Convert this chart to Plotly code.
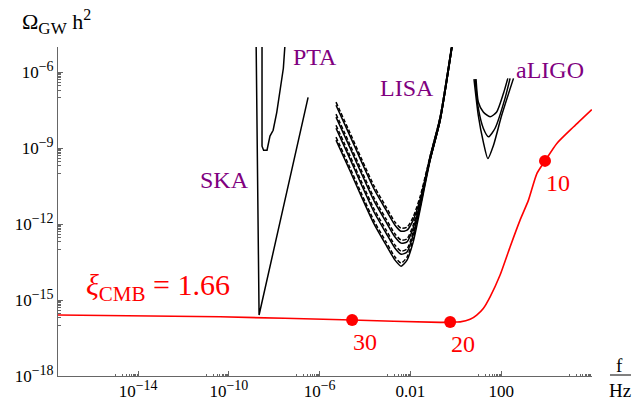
import plotly.graph_objects as go

# ---------------- data (log10 values) ----------------
# red curve: xi_CMB = 1.66
red_logf = [-17.53, -10.39, -4.57, -0.69, -0.25, 0.19, 0.63, 0.92, 1.21, 1.51, 1.95, 2.39, 2.83, 3.20, 3.57, 3.93, 4.45, 5.18, 5.99]
red_logO = [-15.59, -15.66, -15.79, -15.88, -15.87, -15.86, -15.76, -15.59, -15.33, -14.87, -14.01, -12.90, -11.84, -11.05, -10.00, -9.50, -8.81, -8.16, -7.47]
pt_logf = [-4.57, -0.25, 3.93]
pt_logO = [-15.79, -15.87, -9.50]
pt_labels = ["30", "20", "10"]

# SKA
ska_logf = [-8.80, -8.67, -6.51]
ska_logO = [-4.80, -15.59, -6.99]

# PTA
pta_logf = [-8.54, -8.54, -8.47, -8.32, -8.19, -8.05, -7.89, -7.75, -7.60, -7.52]
pta_logO = [-4.80, -8.92, -9.08, -9.08, -8.52, -8.29, -7.58, -6.79, -5.84, -4.80]

# LISA (solid and dashed)
lisa_logf = [-5.28, -4.66, -4.13, -3.60, -3.07, -2.68, -2.41, -2.15, -1.88, -1.58, -1.14, -0.69, -0.17]
lisa_solid_logO = [
    [-7.30, -8.52, -9.59, -10.62, -11.45, -12.04, -12.28, -12.24, -11.84, -11.05, -9.47, -7.89, -5.01],
    [-7.77, -8.99, -10.06, -11.09, -11.92, -12.51, -12.75, -12.70, -12.16, -11.21, -9.47, -7.89, -5.01],
    [-8.21, -9.43, -10.50, -11.53, -12.36, -12.95, -13.19, -13.10, -12.43, -11.33, -9.47, -7.89, -5.01],
    [-8.68, -9.90, -10.97, -12.00, -12.83, -13.42, -13.66, -13.42, -12.71, -11.45, -9.51, -7.89, -5.01],
]
lisa_dashed_logO = [
    [-7.18, -8.40, -9.47, -10.50, -11.33, -11.92, -12.16, -12.12, -11.72, -10.93, -9.35, -7.77, -4.89],
    [-7.65, -8.87, -9.94, -10.97, -11.80, -12.39, -12.63, -12.58, -12.04, -11.09, -9.35, -7.77, -4.89],
    [-8.09, -9.31, -10.38, -11.41, -12.24, -12.83, -13.07, -12.98, -12.31, -11.21, -9.35, -7.77, -4.89],
    [-8.56, -9.78, -10.85, -11.88, -12.71, -13.30, -13.54, -13.30, -12.59, -11.33, -9.39, -7.77, -4.89],
]

# aLIGO
aligo_logf = [
    [0.89, 0.99, 1.21, 1.51, 1.80, 2.10, 2.29],
    [0.85, 0.99, 1.21, 1.44, 1.73, 2.17, 2.39],
    [0.80, 0.99, 1.21, 1.41, 1.66, 2.02, 2.54],
]
aligo_logO = [
    [-6.27, -7.17, -7.57, -7.76, -7.57, -6.83, -6.24],
    [-6.27, -7.42, -8.21, -8.55, -8.21, -7.02, -6.24],
    [-6.27, -7.70, -8.75, -9.41, -8.88, -7.70, -6.24],
]

x_tick_exp = [-14, -10, -6, -2, 2]
x_tick_text = ["10^−14", "10^−10", "10^−6", "0.01", "100"]
y_tick_exp = [-18, -15, -12, -9, -6]
y_tick_text = ["10^−18", "10^−15", "10^−12", "10^−9", "10^−6"]

# ---------------------------------------------------------------------------
def p10(v):
    return [10 ** a for a in v]

def sup_fmt(s, size=14):
    if "^" in s:
        b, e = s.split("^")
        return f"{b}<sup><span style='font-size:{size}px'>{e}</span></sup>"
    return s

RED = "#ff0000"
PURPLE = "#800080"
FONT = "Liberation Serif, Times New Roman, serif"

fig = go.Figure()

def curve(lf, lo, color="black", width=1.5, dash=None, shape="spline"):
    fig.add_trace(go.Scatter(x=p10(lf), y=p10(lo), mode="lines",
                             line=dict(color=color, width=width, dash=dash, shape=shape,
                                       smoothing=0.6),
                             showlegend=False, hoverinfo="skip"))

curve(ska_logf, ska_logO, shape="linear")
curve(pta_logf, pta_logO, shape="linear")
for lo in lisa_dashed_logO:
    curve(lisa_logf, lo, dash="4px,2px")
for lo in lisa_solid_logO:
    curve(lisa_logf, lo)
for lf, lo in zip(aligo_logf, aligo_logO):
    curve(lf, lo)
curve(red_logf, red_logO, color=RED, width=1.6)

fig.add_trace(go.Scatter(x=p10(pt_logf), y=p10(pt_logO), mode="markers",
                         marker=dict(color=RED, size=12), showlegend=False,
                         hoverinfo="skip"))

for lf, lo, t in zip(pt_logf, pt_logO, pt_labels):
    fig.add_annotation(x=lf, y=lo, xref="x", yref="y", text=t, showarrow=False,
                       xanchor="center", yanchor="middle",
                       xshift=13, yshift=-22, font=dict(family=FONT, size=24, color=RED))

def minor_vals(majors, lo, hi):
    out = []
    for m in majors:
        for k in range(1, 10):
            v = k * 10 ** (m - 1)
            if 10 ** lo <= v <= 10 ** hi:
                out.append(v)
    return out

axis_common = dict(type="log", showgrid=False, zeroline=False, showline=True,
                   linecolor="#666666", linewidth=1, ticks="inside", ticklen=5,
                   tickcolor="#666666", mirror=False, automargin=False,
                   tickfont=dict(family=FONT, size=17, color="black"))

fig.update_xaxes(range=[-17.53, 6.0], tickmode="array",
                 tickvals=[10 ** e for e in x_tick_exp],
                 ticktext=[sup_fmt(t) for t in x_tick_text],
                 minor=dict(tickvals=minor_vals(x_tick_exp + [6], -17.53, 6.0),
                            ticks="inside", ticklen=2.5, tickcolor="#666666"),
                 **axis_common)
fig.update_yaxes(range=[-18, -5.0], tickmode="array",
                 tickvals=[10 ** e for e in y_tick_exp],
                 ticktext=[sup_fmt(t) for t in y_tick_text],
                 minor=dict(tickvals=minor_vals(y_tick_exp, -18, -5.0),
                            ticks="inside", ticklen=2.5, tickcolor="#666666"),
                 **axis_common)

texts = [
    ("SKA", 0.3118, 0.5957),
    ("PTA", 0.4822, 0.9681),
    ("LISA", 0.653, 0.8739),
    ("aLIGO", 0.9213, 0.9301),
]
for t, x, y in texts:
    fig.add_annotation(x=x, y=y, xref="paper", yref="paper", text=t, showarrow=False,
                       xanchor="center", yanchor="middle",
                       font=dict(family=FONT, size=24, color=PURPLE))

fig.add_annotation(x=0.0487, y=0.27, xref="paper", yref="paper", xanchor="left",
                   yanchor="middle",
                   text="<i>ξ</i><sub>CMB</sub> = 1.66", showarrow=False,
                   font=dict(family=FONT, size=30, color=RED))

fig.add_annotation(x=-0.0712, y=1.076, xref="paper", yref="paper", xanchor="left",
                   yanchor="middle",
                   text="Ω<sub><span style='font-size:17px'>GW</span></sub> h<sup><span style='font-size:16px'>2</span></sup>",
                   showarrow=False,
                   font=dict(family=FONT, size=22, color="black"))

fig.add_annotation(x=1.0524, y=0.0304, xref="paper", yref="paper", text="f",
                   xanchor="center", yanchor="middle",
                   showarrow=False, font=dict(family=FONT, size=19, color="black"))
fig.add_annotation(x=1.0524, y=-0.0426, xref="paper", yref="paper", text="Hz",
                   xanchor="center", yanchor="middle",
                   showarrow=False, font=dict(family=FONT, size=19, color="black"))
fig.add_shape(type="line", xref="paper", yref="paper", x0=1.0337, x1=1.073,
              y0=0.003, y1=0.003, line=dict(color="black", width=1))

fig.update_layout(width=632, height=403, margin=dict(l=58, r=40, t=47, b=27),
                  font=dict(family=FONT, size=17, color="black"),
                  paper_bgcolor="white", plot_bgcolor="white")

fig.write_html("out.html")
